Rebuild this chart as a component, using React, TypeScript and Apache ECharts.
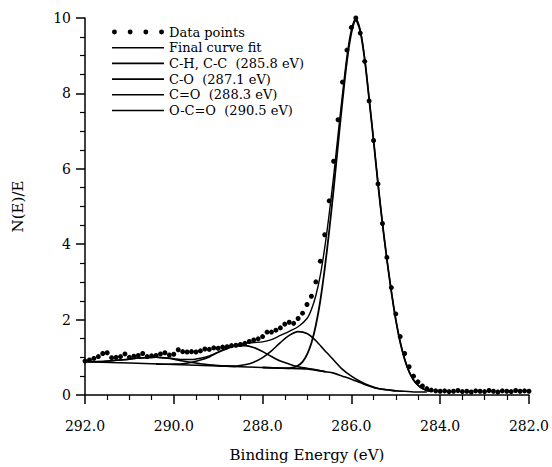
import React, { useEffect, useRef } from "react";
import * as echarts from "echarts";

// Measured spectrum (binding energy eV, N(E)/E)
const dataPoints: [number, number][] = [
  [292.0, 0.9], [291.9, 0.93], [291.8, 0.97], [291.7, 1.02], [291.6, 1.1], [291.5, 1.12],
  [291.4, 0.99], [291.3, 1.0], [291.2, 1.02], [291.1, 1.09], [291.0, 1.0], [290.9, 1.03],
  [290.8, 1.05], [290.7, 1.1], [290.6, 1.02], [290.5, 1.04], [290.4, 1.05], [290.3, 1.09],
  [290.2, 1.12], [290.1, 1.06], [290.0, 1.08], [289.9, 1.2], [289.8, 1.15], [289.7, 1.14],
  [289.6, 1.15], [289.5, 1.14], [289.4, 1.17], [289.3, 1.22], [289.2, 1.21], [289.1, 1.25],
  [289.0, 1.24], [288.9, 1.27], [288.8, 1.28], [288.7, 1.31], [288.6, 1.32], [288.5, 1.34],
  [288.4, 1.37], [288.3, 1.42], [288.2, 1.46], [288.1, 1.49], [288.0, 1.55], [287.9, 1.67],
  [287.8, 1.67], [287.7, 1.72], [287.6, 1.78], [287.5, 1.88], [287.4, 1.93], [287.3, 1.9],
  [287.2, 2.03], [287.1, 2.17], [287.0, 2.4], [286.9, 2.62], [286.8, 3.0], [286.7, 3.55],
  [286.6, 4.25], [286.5, 5.15], [286.4, 6.2], [286.3, 7.3], [286.2, 8.3], [286.1, 9.15],
  [286.0, 9.75], [285.9, 10.0], [285.8, 9.6], [285.7, 8.85], [285.6, 7.8], [285.5, 6.75],
  [285.4, 5.6], [285.3, 4.55], [285.2, 3.65], [285.1, 2.85], [285.0, 2.15], [284.9, 1.55],
  [284.8, 1.1], [284.7, 0.75], [284.6, 0.5], [284.5, 0.35], [284.4, 0.24], [284.3, 0.17],
  [284.2, 0.13], [284.1, 0.11], [284.0, 0.1], [283.9, 0.11], [283.8, 0.09], [283.7, 0.1],
  [283.6, 0.12], [283.5, 0.09], [283.4, 0.1], [283.3, 0.08], [283.2, 0.11], [283.1, 0.1],
  [283.0, 0.09], [282.9, 0.12], [282.8, 0.1], [282.7, 0.08], [282.6, 0.11], [282.5, 0.1],
  [282.4, 0.09], [282.3, 0.12], [282.2, 0.1], [282.1, 0.11], [282.0, 0.1],
];

const finalFit: [number, number][] = [
  [292.0, 0.885], [291.8, 0.886], [291.6, 0.89], [291.4, 0.91], [291.2, 0.93], [291.0, 0.95],
  [290.8, 0.98], [290.6, 0.99], [290.4, 1.0], [290.2, 0.99], [290.0, 0.965], [289.8, 0.94],
  [289.6, 0.94], [289.4, 0.975], [289.2, 1.04], [289.0, 1.14], [288.8, 1.25], [288.6, 1.32],
  [288.4, 1.37], [288.2, 1.39], [288.0, 1.41], [287.8, 1.47], [287.6, 1.58], [287.4, 1.69],
  [287.2, 1.81], [287.0, 2.03], [286.9, 2.27], [286.8, 2.64], [286.7, 3.17], [286.6, 3.91],
  [286.5, 4.8], [286.4, 5.8], [286.3, 6.91], [286.2, 7.98], [286.1, 8.98], [286.0, 9.69],
  [285.9, 9.98], [285.8, 9.68], [285.7, 8.92], [285.6, 7.86], [285.5, 6.76], [285.4, 5.6],
  [285.3, 4.55], [285.2, 3.6], [285.1, 2.75], [285.0, 2.0], [284.9, 1.4], [284.8, 0.95],
  [284.7, 0.62], [284.6, 0.4], [284.5, 0.26], [284.4, 0.17], [284.3, 0.12], [284.2, 0.1],
];

const chCurve: [number, number][] = [
  [288.0, 0.73], [287.6, 0.715], [287.4, 0.71], [287.3, 0.73], [287.2, 0.78], [287.1, 0.88],
  [287.0, 1.07], [286.9, 1.38], [286.8, 1.85], [286.7, 2.5], [286.6, 3.35], [286.5, 4.35],
  [286.4, 5.45], [286.3, 6.65], [286.2, 7.8], [286.1, 8.85], [286.0, 9.6], [285.9, 9.93],
  [285.8, 9.65], [285.7, 8.9], [285.6, 7.85], [285.5, 6.75], [285.4, 5.6], [285.3, 4.55],
  [285.2, 3.6], [285.1, 2.75], [285.0, 2.0], [284.9, 1.4], [284.8, 0.95], [284.7, 0.62],
  [284.6, 0.4], [284.5, 0.26], [284.4, 0.17], [284.3, 0.12], [284.2, 0.1],
];

const coCurve: [number, number][] = [
  [289.0, 0.77], [288.6, 0.77], [288.4, 0.8], [288.2, 0.87], [288.0, 0.99], [287.8, 1.17],
  [287.6, 1.39], [287.4, 1.58], [287.2, 1.68], [287.0, 1.63], [286.8, 1.44], [286.6, 1.18],
  [286.4, 0.93], [286.2, 0.68], [286.0, 0.5], [285.8, 0.36], [285.6, 0.25], [285.4, 0.17],
  [285.2, 0.14], [285.0, 0.11],
];

const carbonylCurve: [number, number][] = [
  [290.4, 0.82], [290.2, 0.815], [290.0, 0.82], [289.8, 0.83], [289.6, 0.87], [289.4, 0.93],
  [289.2, 1.01], [289.0, 1.13], [288.8, 1.23], [288.6, 1.3], [288.4, 1.31], [288.2, 1.26],
  [288.0, 1.15], [287.8, 1.02], [287.6, 0.9], [287.4, 0.82], [287.2, 0.75], [287.0, 0.71],
  [286.8, 0.67], [286.6, 0.62],
];

const carboxylCurve: [number, number][] = [
  [292.0, 0.885], [291.8, 0.886], [291.6, 0.89], [291.4, 0.91], [291.2, 0.93], [291.0, 0.95],
  [290.8, 0.98], [290.6, 0.99], [290.4, 1.0], [290.2, 0.98], [290.0, 0.95], [289.8, 0.9],
  [289.6, 0.86], [289.4, 0.83], [289.2, 0.8], [289.0, 0.78], [288.8, 0.765], [288.6, 0.755],
];

const background: [number, number][] = [
  [292.0, 0.88], [291.0, 0.85], [290.0, 0.81], [289.0, 0.77], [288.0, 0.73], [287.5, 0.71],
  [287.2, 0.7], [287.0, 0.69], [286.8, 0.66], [286.6, 0.62], [286.4, 0.58], [286.2, 0.5],
  [286.0, 0.42], [285.8, 0.33], [285.6, 0.24], [285.4, 0.17], [285.2, 0.14], [285.0, 0.11],
  [284.8, 0.1], [284.6, 0.08], [284.3, 0.08],
];

const legendNames = [
  "Data points",
  "Final curve fit",
  "C-H, C-C  (285.8 eV)",
  "C-O  (287.1 eV)",
  "C=O  (288.3 eV)",
  "O-C=O  (290.5 eV)",
];

const FONT = "DejaVu Serif";
const DOTS_ICON =
  "path://M0.3,2.5a2.2,2.2 0 1,0 4.4,0a2.2,2.2 0 1,0 -4.4,0Z" +
  "M14.3,2.5a2.2,2.2 0 1,0 4.4,0a2.2,2.2 0 1,0 -4.4,0Z" +
  "M28.3,2.5a2.2,2.2 0 1,0 4.4,0a2.2,2.2 0 1,0 -4.4,0Z" +
  "M42.3,2.5a2.2,2.2 0 1,0 4.4,0a2.2,2.2 0 1,0 -4.4,0Z";
const LINE_ICON = "path://M0,0H52V1.6H0Z";

export default function App() {
  const ref = useRef<HTMLDivElement>(null);
  useEffect(() => {
    if (!ref.current) return;
    const chart = echarts.init(ref.current, null, { renderer: "svg" });
    const lineSeries = (name: string, data: [number, number][], width: number, z: number) => ({
      name,
      type: "line",
      data,
      symbol: "none",
      smooth: 0.3,
      lineStyle: { color: "#000", width },
      itemStyle: { color: "#000" },
      z,
    });
    chart.setOption({
      animation: false,
      backgroundColor: "#fff",
      grid: { left: 85, right: 22, top: 18, bottom: 66, containLabel: false },
      legend: {
        orient: "vertical",
        left: 107,
        top: 20,
        itemWidth: 52,
        itemHeight: 5,
        itemGap: 1.7,
        symbolKeepAspect: true,
        textStyle: { fontFamily: FONT, fontSize: 13, color: "#000", lineHeight: 14 },
        data: [
          { name: legendNames[0], icon: DOTS_ICON, itemStyle: { color: "#000", opacity: 1 } },
          { name: legendNames[1], icon: LINE_ICON, itemStyle: { color: "#000" } },
          { name: legendNames[2], icon: LINE_ICON, itemStyle: { color: "#000" } },
          { name: legendNames[3], icon: LINE_ICON, itemStyle: { color: "#000" } },
          { name: legendNames[4], icon: LINE_ICON, itemStyle: { color: "#000" } },
          { name: legendNames[5], icon: LINE_ICON, itemStyle: { color: "#000" } },
        ],
        selectedMode: false,
      },
      xAxis: {
        type: "value",
        min: 282,
        max: 292,
        interval: 2,
        inverse: true,
        name: "Binding Energy (eV)",
        nameLocation: "middle",
        nameGap: 52,
        nameTextStyle: { fontFamily: FONT, fontSize: 15, color: "#000" },
        axisLine: { show: true, onZero: false, lineStyle: { color: "#000", width: 1.5 } },
        axisTick: { show: true, length: 9, lineStyle: { color: "#000", width: 1.5 } },
        minorTick: { show: true, splitNumber: 4, length: 5, lineStyle: { color: "#000", width: 1.2 } },
        splitLine: { show: false },
        axisLabel: {
          fontFamily: FONT,
          fontSize: 14,
          color: "#000",
          margin: 24,
          formatter: (v: number) => v.toFixed(1),
        },
      },
      yAxis: {
        type: "value",
        min: 0,
        max: 10,
        interval: 2,
        name: "N(E)/E",
        nameLocation: "middle",
        nameGap: 60,
        nameTextStyle: { fontFamily: FONT, fontSize: 15, color: "#000" },
        axisLine: { show: true, onZero: false, lineStyle: { color: "#000", width: 1.5 } },
        axisTick: { show: true, length: 9, lineStyle: { color: "#000", width: 1.5 } },
        minorTick: { show: true, splitNumber: 4, length: 5, lineStyle: { color: "#000", width: 1.2 } },
        splitLine: { show: false },
        axisLabel: { fontFamily: FONT, fontSize: 14, color: "#000", margin: 14 },
      },
      series: [
        lineSeries("Background", background, 1.6, 2),
        lineSeries(legendNames[5], carboxylCurve, 1.6, 3),
        lineSeries(legendNames[4], carbonylCurve, 1.6, 3),
        lineSeries(legendNames[3], coCurve, 1.6, 3),
        lineSeries(legendNames[2], chCurve, 1.8, 3),
        lineSeries(legendNames[1], finalFit, 1.4, 4),
        {
          name: legendNames[0],
          type: "scatter",
          data: dataPoints,
          symbol: "circle",
          symbolSize: 5,
          itemStyle: { color: "#000", opacity: 1 },
          z: 5,
        },
      ],
    });
    return () => chart.dispose();
  }, []);
  return (
    <div
      ref={ref}
      style={{ position: "fixed", left: 0, top: 0, width: 552, height: 467, background: "#fff" }}
    />
  );
}
